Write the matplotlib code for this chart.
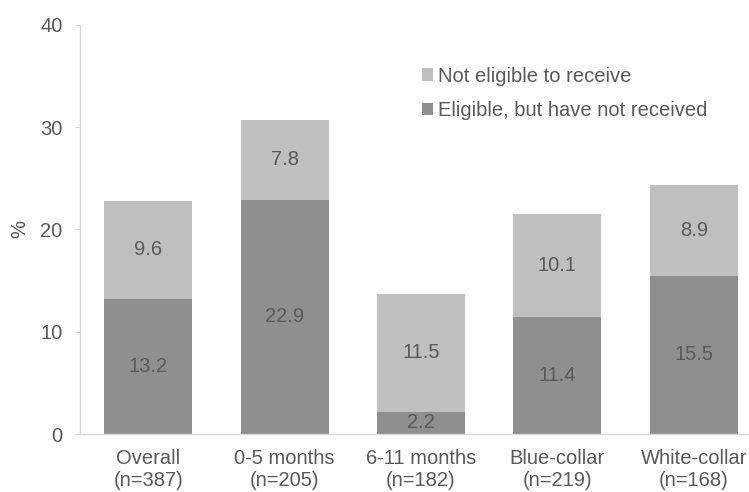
import matplotlib.pyplot as plt
import numpy as np

plt.rcParams['font.family'] = ['Liberation Sans', 'DejaVu Sans']

# Данные
groups = ['Overall\n(n=387)', '0-5 months\n(n=205)', '6-11 months\n(n=182)',
          'Blue-collar\n(n=219)', 'White-collar\n(n=168)']
eligible_not_received = [13.2, 22.9, 2.2, 11.4, 15.5]
not_eligible = [9.6, 7.8, 11.5, 10.1, 8.9]

dark = '#8f8f8f'
light = '#bfbfbf'
txt = '#595959'
grid_c = '#d9d9d9'
fs = 14.5

fig = plt.figure(figsize=(7.49, 4.92), dpi=100)
ax = fig.add_axes([80 / 749, 58 / 492, 682 / 749, 409 / 492])

x = np.arange(len(groups))
b1 = ax.bar(x, eligible_not_received, width=0.645, color=dark,
            label='Eligible, but have not received')
b2 = ax.bar(x, not_eligible, width=0.645, bottom=eligible_not_received,
            color=light, label='Not eligible to receive')

for rect, v in zip(b1, eligible_not_received):
    ax.text(rect.get_x() + rect.get_width() / 2, v / 2, f'{v:.1f}',
            ha='center', va='center', fontsize=fs, color=txt)
for rect, base, v in zip(b2, eligible_not_received, not_eligible):
    ax.text(rect.get_x() + rect.get_width() / 2, base + v / 2, f'{v:.1f}',
            ha='center', va='center', fontsize=fs, color=txt)

ax.set_xlim(-0.5, len(groups) - 0.5)
ax.set_ylim(0, 40)
ax.set_yticks([0, 10, 20, 30, 40])
ax.set_xticks(x)
ax.set_xticklabels(groups, linespacing=1.2)
ax.tick_params(axis='x', length=0, labelsize=fs, labelcolor=txt, pad=11)
ax.tick_params(axis='y', length=3.6, color=grid_c, labelsize=fs,
               labelcolor=txt, pad=9)
ax.set_ylabel('%', fontsize=fs, color=txt, labelpad=8)

for s in ['top', 'right']:
    ax.spines[s].set_visible(False)
for s in ['left', 'bottom']:
    ax.spines[s].set_color(grid_c)
    ax.spines[s].set_linewidth(1)

handles = [b2, b1]
ax.legend(handles, [h.get_label() for h in handles], loc='upper left',
          bbox_to_anchor=(0.489, 0.918), frameon=False, fontsize=fs,
          labelcolor=txt, handlelength=0.55, handleheight=0.55,
          handletextpad=0.25, labelspacing=0.75, borderaxespad=0)

fig.savefig('out.png', dpi=100)
